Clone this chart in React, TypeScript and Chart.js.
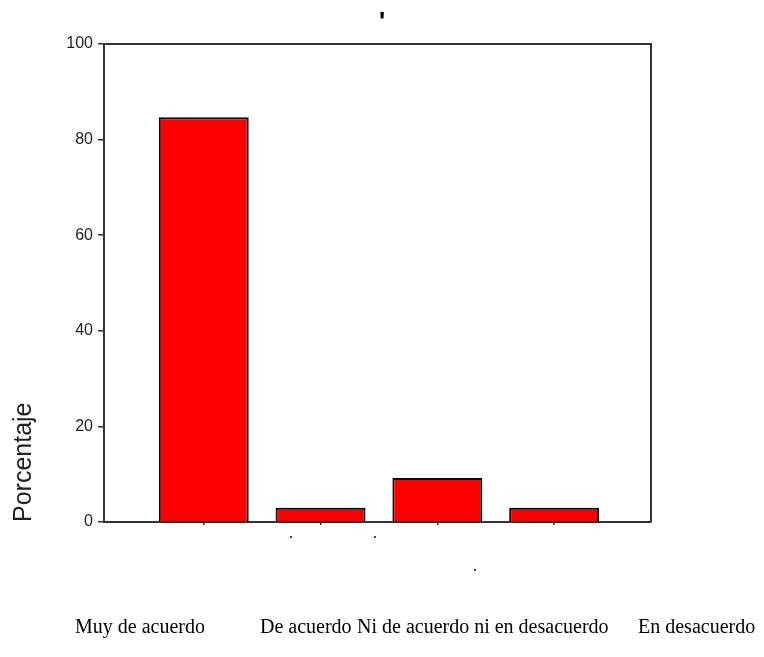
import React, { useEffect, useRef } from "react";
import { Chart, registerables } from "chart.js";

Chart.register(...registerables);

// ---- data ----
const categories = [
  "Muy de acuerdo",
  "De acuerdo",
  "Ni de acuerdo ni en desacuerdo",
  "En desacuerdo",
];
const percentages = [84.7, 3.0, 9.2, 3.0];
const yTickValues = [0, 20, 40, 60, 80, 100];
const titleText = "'";
const yAxisTitle = "Porcentaje";

// ---- layout / style ----
const W = 764;
const H = 657;
const labelLefts = [75, 260, 357, 638];
const labelTop = 615;
const AXIS = "#333333";
const strayDots = [
  [290, 536],
  [374, 536],
  [474, 569],
];

const framePlugin = {
  id: "frame",
  afterDatasetsDraw(chart: any) {
    const { ctx, chartArea: a } = chart;
    ctx.save();
    ctx.strokeStyle = AXIS;
    ctx.lineWidth = 2;
    ctx.beginPath();
    ctx.moveTo(a.left, a.top);
    ctx.lineTo(a.right, a.top);
    ctx.lineTo(a.right, a.bottom);
    ctx.stroke();
    ctx.restore();
  },
};

export default function App() {
  const ref = useRef<HTMLCanvasElement | null>(null);

  useEffect(() => {
    if (!ref.current) return;
    const chart = new Chart(ref.current, {
      type: "bar",
      data: {
        datasets: [
          {
            label: yAxisTitle,
            data: percentages.map((v, i) => ({ x: i + 1, y: v })),
            backgroundColor: "#ff0000",
            borderColor: "#000000",
            borderWidth: 2,
            categoryPercentage: 1,
            barPercentage: 0.77,
          },
        ],
      },
      plugins: [framePlugin],
      options: {
        responsive: false,
        animation: false,
        events: [],
        layout: { padding: { left: 0, right: 113, top: 44, bottom: 0 } },
        plugins: {
          legend: { display: false },
          tooltip: { enabled: false },
          title: { display: false },
        },
        scales: {
          x: {
            type: "linear",
            min: 0.146,
            max: 4.829,
            offset: false,
            afterBuildTicks: (s: any) => {
              s.ticks = categories.map((_, i) => ({ value: i + 1 }));
            },
            afterFit: (s: any) => {
              s.height = H - 522;
            },
            ticks: { display: false },
            grid: {
              display: true,
              offset: false,
              drawOnChartArea: false,
              drawTicks: true,
              tickLength: 3,
              color: AXIS,
              lineWidth: 1.5,
            },
            border: { display: true, color: AXIS, width: 2 },
          },
          y: {
            type: "linear",
            min: 0,
            max: 100,
            afterBuildTicks: (s: any) => {
              s.ticks = yTickValues.map((v) => ({ value: v }));
            },
            afterFit: (s: any) => {
              s.width = 104;
            },
            ticks: {
              color: "#222",
              padding: 5,
              font: { family: "'Liberation Sans', Arial, sans-serif", size: 16 },
            },
            grid: {
              display: true,
              offset: false,
              drawOnChartArea: false,
              drawTicks: true,
              tickLength: 6,
              color: AXIS,
              lineWidth: 1.5,
            },
            border: { display: true, color: AXIS, width: 2 },
            title: {
              display: true,
              text: yAxisTitle,
              align: "start",
              color: "#222",
              font: { family: "'Liberation Sans', Arial, sans-serif", size: 25 },
              padding: { top: 9, bottom: 0 },
            },
          },
        },
      },
    } as any);
    return () => chart.destroy();
  }, []);

  return (
    <div style={{ position: "fixed", left: 0, top: 0, width: W, height: H, background: "#fff" }}>
      <canvas ref={ref} width={W} height={H} style={{ display: "block", width: W, height: H }} />
      <span
        style={{
          position: "absolute",
          left: 379,
          top: 8,
          lineHeight: 1,
          fontFamily: "'Liberation Sans', Arial, sans-serif",
          fontWeight: "bold",
          fontSize: 26,
          color: "#000",
        }}
      >
        {titleText}
      </span>
      {strayDots.map(([x, y], i) => (
        <div
          key={i}
          style={{ position: "absolute", left: x, top: y, width: 2, height: 2, background: "#444" }}
        />
      ))}
      {categories.map((c, i) => (
        <span
          key={c}
          style={{
            position: "absolute",
            left: labelLefts[i],
            top: labelTop,
            fontFamily: "'Liberation Serif', 'Times New Roman', serif",
            fontSize: 20,
            color: "#000",
            whiteSpace: "nowrap",
          }}
        >
          {c}
        </span>
      ))}
    </div>
  );
}
